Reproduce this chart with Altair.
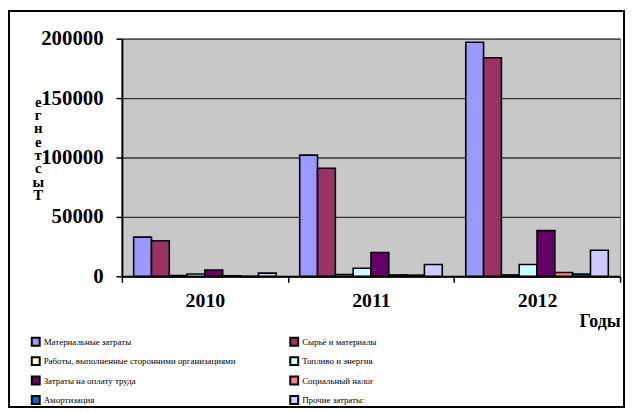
import altair as alt
import pandas as pd

years = ["2010", "2011", "2012"]
series = [
    "Материальные затраты",
    "Сырьё и материалы",
    "Работы, выполненные сторонними организациями",
    "Топливо и энергия",
    "Затраты на оплату труда",
    "Социальный налог",
    "Амортизация",
    "Прочие затраты:",
]
colors = ["#9999FF", "#993366", "#FFFFCC", "#CCFFFF", "#660066", "#FF8080", "#0066CC", "#CCCCFF"]

v2010 = [33000, 30000, 600, 2000, 5400, 500, 100, 2700]
v2011 = [102000, 91000, 1500, 6800, 20000, 1200, 1000, 10000]
v2012 = [197000, 184000, 1200, 10000, 38500, 3300, 2000, 22000]

rows = []
for y, vals in zip(years, [v2010, v2011, v2012]):
    for s, v in zip(series, vals):
        rows.append({"Год": y, "Статья": s, "Значение": v})
df = pd.DataFrame(rows)

FONT = "Liberation Serif"
W, H = 503, 240

bars = alt.Chart(df).mark_bar(stroke="black", strokeWidth=1.6).encode(
    x=alt.X(
        "Год:N",
        sort=years,
        scale=alt.Scale(paddingInner=0, paddingOuter=0),
        axis=alt.Axis(
            title="Годы",
            titleFont=FONT, titleFontSize=18, titleFontWeight="bold", titleColor="black",
            titleX=W, titleY=51, titleAlign="right", titleBaseline="alphabetic",
            labelFont=FONT, labelFontSize=20, labelFontWeight="bold", labelColor="black",
            labelAngle=0, labelPadding=8, labelBaseline="top",
            tickBand="extent", tickSize=6, tickColor="black", tickWidth=1.5,
            domainColor="black", domainWidth=2, grid=False,
        ),
    ),
    xOffset=alt.XOffset(
        "Статья:N", sort=series,
        scale=alt.Scale(paddingInner=0, paddingOuter=0.66),
    ),
    y=alt.Y(
        "Значение:Q",
        scale=alt.Scale(domain=[0, 200000], nice=False),
        axis=alt.Axis(
            values=[0, 50000, 100000, 150000, 200000],
            format="d",
            title=["е", "г", "н", "е", "т", "с", "ы", "Т"],
            titleFont=FONT, titleFontSize=15, titleFontWeight="bold", titleColor="black",
            titleAngle=0, titleX=-85, titleY=68, titleAlign="center",
            titleBaseline="alphabetic", titleLineHeight=13.5,
            labelFont=FONT, labelFontSize=21, labelFontWeight="bold", labelColor="black",
            labelPadding=13, tickSize=6, tickColor="black", tickWidth=1.5,
            domainColor="black", domainWidth=2,
            grid=True, gridColor="#333333", gridWidth=1.3,
        ),
    ),
    stroke=alt.value("black"),
    color=alt.Color(
        "Статья:N",
        sort=series,
        scale=alt.Scale(domain=series, range=colors),
        legend=alt.Legend(
            title=None, orient="none", legendX=-92, legendY=301,
            columns=2, direction="horizontal", columnPadding=51, rowPadding=3.6,
            symbolType="square", symbolSize=64,
            symbolStrokeColor="black", symbolStrokeWidth=2,
            labelFont=FONT, labelFontSize=9, labelColor="black",
            labelOffset=3, labelLimit=400,
        ),
    ),
)

border = alt.Chart(pd.DataFrame({"a": [0]})).mark_rect(
    fillOpacity=0, stroke="black", strokeWidth=2
).encode(
    x=alt.value(-114), x2=alt.value(507), y=alt.value(-28), y2=alt.value(372)
)

chart = alt.layer(bars, border).properties(
    width=W, height=H,
    autosize=alt.AutoSizeParams(type="none"),
    padding={"left": 115, "top": 29, "right": 6, "bottom": 134},
    background="white",
).configure_view(
    fill="#C8C8C8", stroke="#808080", strokeWidth=1
)

chart.save("out.html", embed_options={"renderer": "svg", "actions": False})
